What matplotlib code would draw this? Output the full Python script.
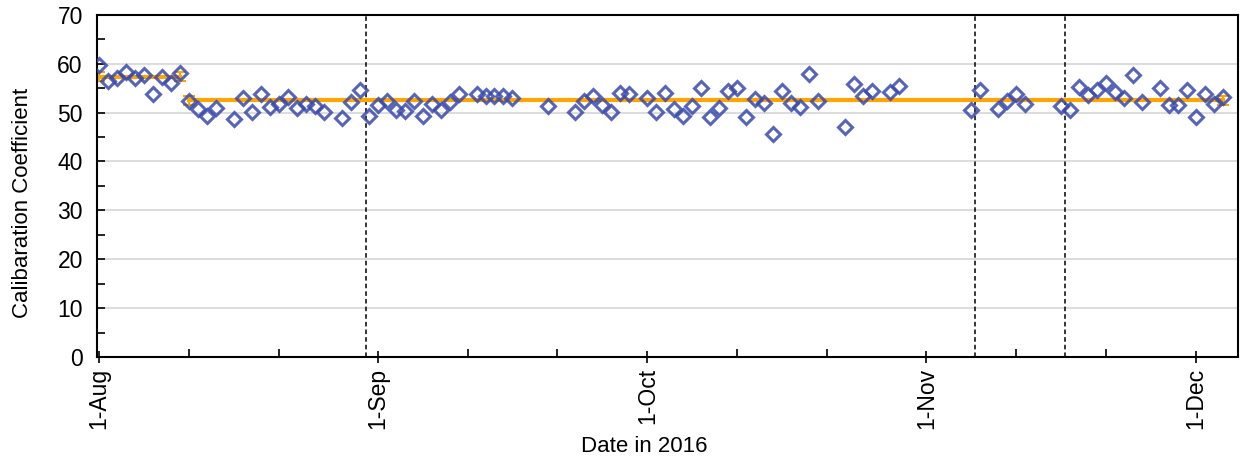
"""
Calibration coefficient over the 2016 campaign, with segment means.
"""

import datetime as dt

import matplotlib
matplotlib.use("Agg")
import matplotlib.dates as mdates
import matplotlib.pyplot as plt
from matplotlib.ticker import FuncFormatter, MultipleLocator


START = dt.datetime(2016, 8, 1)

# days after 1-Aug
day_offsets = [
    0, 1, 2, 3, 4, 5, 6, 7, 8, 9,
    10, 11, 12, 13, 15, 16, 17, 18, 19, 20,
    21, 22, 23, 24, 25, 27, 28, 29, 30, 31,
    32, 33, 34, 35, 36, 37, 38, 39, 40, 42,
    43, 44, 45, 46, 50, 53, 54, 55, 56, 57,
    58, 59, 61, 62, 63, 64, 65, 66, 67, 68,
    69, 70, 71, 72, 73, 74, 75, 76, 77, 78,
    79, 80, 83, 84, 85, 86, 88, 89, 97, 98,
    100, 101, 102, 103, 107, 108, 109, 110, 111, 112,
    113, 114, 115, 116, 118, 119, 120, 121, 122, 123,
    124, 125,
]
coefficients = [
    59.8, 56.5, 57.1, 58.2, 57.1, 57.6, 53.9, 57.3, 56.1, 58.0,
    52.4, 50.8, 49.2, 51.0, 48.6, 52.9, 50.2, 53.7, 51.2, 51.8,
    53.1, 51.0, 51.8, 51.4, 50.2, 48.8, 52.2, 54.7, 49.4, 51.6,
    52.4, 50.6, 50.4, 52.4, 49.4, 51.8, 50.6, 52.2, 53.7, 53.9,
    53.3, 53.3, 53.3, 52.9, 51.4, 50.2, 52.4, 53.3, 51.6, 50.2,
    54.1, 53.9, 52.9, 50.2, 54.1, 50.8, 49.4, 51.4, 55.1, 49.0,
    51.0, 54.5, 55.1, 49.0, 52.7, 52.0, 45.7, 54.5, 52.0, 51.2,
    57.8, 52.4, 47.1, 55.9, 53.3, 54.5, 54.3, 55.5, 50.6, 54.7,
    50.8, 52.4, 53.7, 51.8, 51.4, 50.6, 55.3, 53.5, 54.7, 56.1,
    54.3, 52.9, 57.6, 52.2, 55.1, 51.6, 51.6, 54.7, 49.0, 53.9,
    51.8, 53.1,
]

# segment means (start day, end day, mean, spread)
seg_start = [0, 10]
seg_end = [9, 125]
seg_mean = [57.3, 52.5]
seg_err = [0.9, 0.85]

# instrument changes, in days after 1-Aug
break_days = [29.7, 97.4, 107.4]


def to_date(d):
    return START + dt.timedelta(days=d)


def main():
    plt.rcParams["font.family"] = ["Liberation Sans", "DejaVu Sans"]
    fig = plt.figure(figsize=(12.4, 4.63), dpi=100)
    ax = fig.add_axes([0.078, 0.229, 0.92, 0.739])

    for y in range(10, 70, 10):
        ax.axhline(y, color="#d9d9d9", lw=1.3, zorder=0)

    for d in break_days:
        ax.axvline(to_date(d), color="black", lw=1.1, ls=(0, (3, 2)), zorder=1)

    for s, e, m, err in zip(seg_start, seg_end, seg_mean, seg_err):
        ax.errorbar([to_date(s), to_date(e)], [m, m], yerr=[err, err],
                    color="#ffa500", lw=3, elinewidth=1.5, capsize=4,
                    capthick=1.5, zorder=2)

    dates = [to_date(d) for d in day_offsets]
    ax.plot(dates, coefficients, ls="none", marker="D", markersize=7,
            markerfacecolor="none", markeredgecolor="#3a4aad",
            markeredgewidth=2.2, alpha=0.85, zorder=3)

    ax.set_xlim(to_date(-0.22), to_date(126.6))
    ax.set_ylim(0, 70)
    ax.yaxis.set_major_locator(MultipleLocator(10))
    ax.yaxis.set_minor_locator(MultipleLocator(5))
    ax.xaxis.set_major_locator(mdates.MonthLocator(bymonthday=1))
    ax.xaxis.set_minor_locator(mdates.DayLocator(bymonthday=[11, 21]))
    ax.xaxis.set_major_formatter(FuncFormatter(
        lambda v, pos: f"{mdates.num2date(v).day}-{mdates.num2date(v):%b}"))

    ax.tick_params(axis="y", which="both", direction="in", length=6,
                   width=1.2, labelsize=16.5, pad=10)
    ax.tick_params(axis="x", which="major", direction="inout", length=8,
                   width=1.2, labelsize=16.5, labelrotation=90, pad=4)
    ax.tick_params(axis="x", which="minor", direction="in", length=6, width=1.2)
    for sp in ax.spines.values():
        sp.set_linewidth(1.5)

    ax.set_ylabel("Calibaration Coefficient", fontsize=16)
    ax.set_xlabel("Date in 2016", fontsize=16)
    ax.yaxis.set_label_coords(-0.056, 0.45)
    ax.xaxis.set_label_coords(0.48, -0.232)

    fig.savefig("out.png", dpi=100)


if __name__ == "__main__":
    main()
